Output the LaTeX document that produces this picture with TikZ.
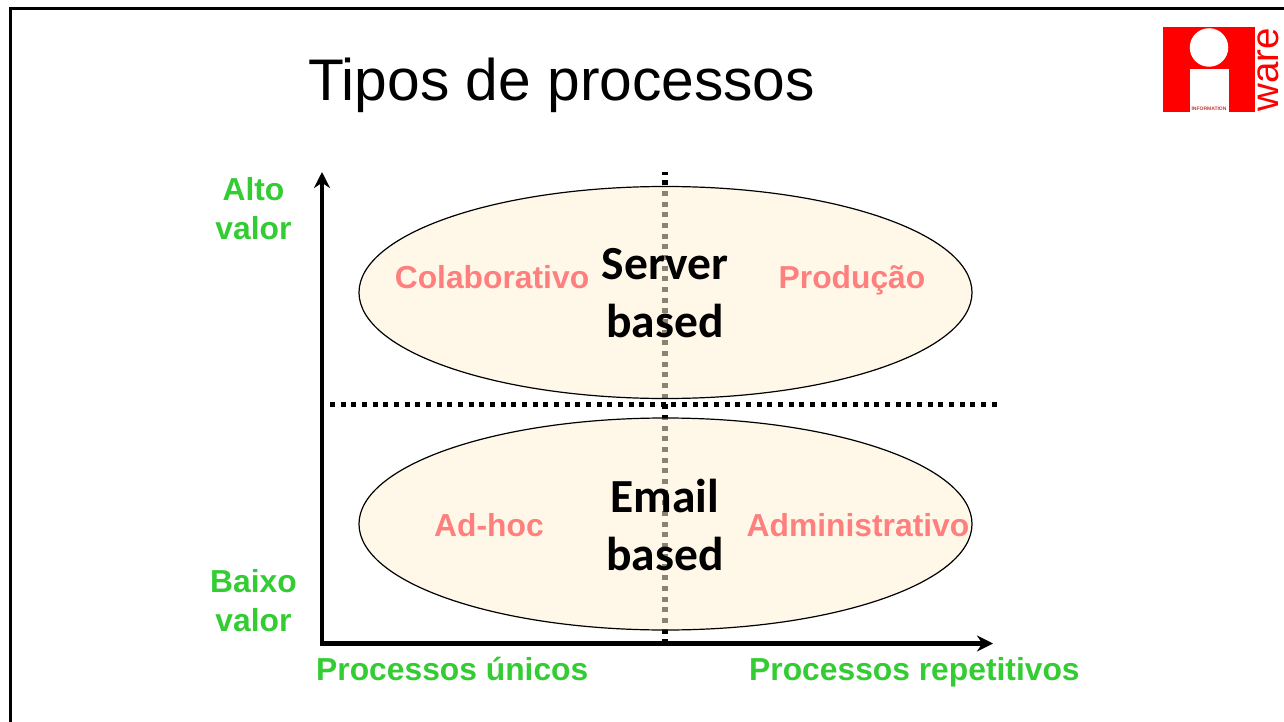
\documentclass[tikz,border=0pt]{standalone}
\usepackage{fontspec}
\setmainfont{Liberation Sans}
\newfontfamily\carl{Carlito}
\usetikzlibrary{arrows.meta,shapes.geometric}
\definecolor{ellfill}{HTML}{FFF3D6}
\definecolor{axisgreen}{HTML}{33CC33}
\definecolor{quadpink}{HTML}{FF7F7F}
\definecolor{logored}{HTML}{FF0000}
\tikzset{
  x=1pt,y=-1pt,
  blob/.style={ellipse,draw=black,line width=1.2pt,fill=ellfill,fill opacity=.54,draw opacity=1,minimum width=613pt,minimum height=212pt,inner sep=0pt},
  axisline/.style={line width=4.2pt,-{Stealth[length=16pt,width=16pt]}},
  dotline/.style={line width=5.2pt,dash pattern=on 5pt off 5.67pt},
  axislabel/.style={text=axisgreen,font=\fontsize{31.8}{39}\selectfont\bfseries,align=center,inner sep=0pt},
  quad/.style={text=quadpink,font=\fontsize{31.8}{38}\selectfont\bfseries,inner sep=0pt},
  tech/.style={font=\carl\fontsize{47.5}{58}\selectfont\bfseries,align=center,inner sep=0pt,text=black},
}
\begin{document}
\begin{tikzpicture}
\useasboundingbox (0,0) rectangle (1284,722);
\fill[white] (0,0) rectangle (1284,722);
% frame
\coordinate (fa) at (10.5,730);
\coordinate (fb) at (10.5,9);
\coordinate (fc) at (1290,9);
\draw[line width=3pt,black] (fa) -- (fb) -- (fc);
% title
\node[anchor=base west,inner sep=0pt,font=\fontsize{58.7}{70}\selectfont] (title) at (308,101) {Tipos de processos};
% logo
\node[fill=logored,minimum width=91.5pt,minimum height=85.5pt,inner sep=0pt] (logo) at (1209,69.3) {};
\node[circle,fill=white,minimum size=38.5pt,inner sep=0pt] (logodot) at (1209,47.5) {};
\node[fill=white,minimum width=39pt,minimum height=43pt,inner sep=0pt] (logostem) at (1209.5,90.5) {};
\node[text=logored!55!gray,font=\fontsize{5}{5}\selectfont\bfseries,inner sep=0pt] (logotext) at (1209,109) {INFORMATION};
\node[rotate=90,anchor=base,text=logored,font=\fontsize{38.5}{40}\selectfont,inner sep=0pt] (ware) at (1278,69.5) {ware};
% vertical dotted line under the ellipses
\coordinate (vt) at (665,172);
\coordinate (vb) at (665,642);
\draw[dotline,dash phase=2.3pt] (vt) -- (vb);
% ellipses
\node[blob] (server) at (665.5,292.5) {};
\node[blob] (email) at (665.5,524) {};
% horizontal dotted line
\coordinate (hl) at (330,404.2);
\coordinate (hr) at (998,404.2);
\draw[dotline] (hl) -- (hr);
% axes
\coordinate (origin) at (322,643.5);
\coordinate (ytop) at (322,172);
\coordinate (xend) at (993,643.5);
\draw[axisline] (origin) -- (ytop);
\draw[axisline] ([xshift=-2.1pt]origin) -- (xend);
% labels
\node[axislabel] (alto) at (253.5,209) {Alto\\valor};
\node[axislabel] (baixo) at (253.5,601) {Baixo\\valor};
\node[axislabel,anchor=base west] (unicos) at (316,680) {Processos únicos};
\node[axislabel,anchor=base west] (repet) at (749,680) {Processos repetitivos};
\node[quad,anchor=base] (colab) at (492,288) {Colaborativo};
\node[quad,anchor=base] (prod) at (852,288) {Produção};
\node[quad,anchor=base] (adhoc) at (489,536) {Ad-hoc};
\node[quad,anchor=base] (admin) at (858,536) {Administrativo};
\node[tech] (servertxt) at (665,293) {Server\\based};
\node[tech] (emailtxt) at (665,525) {Email\\based};
\end{tikzpicture}
\end{document}
